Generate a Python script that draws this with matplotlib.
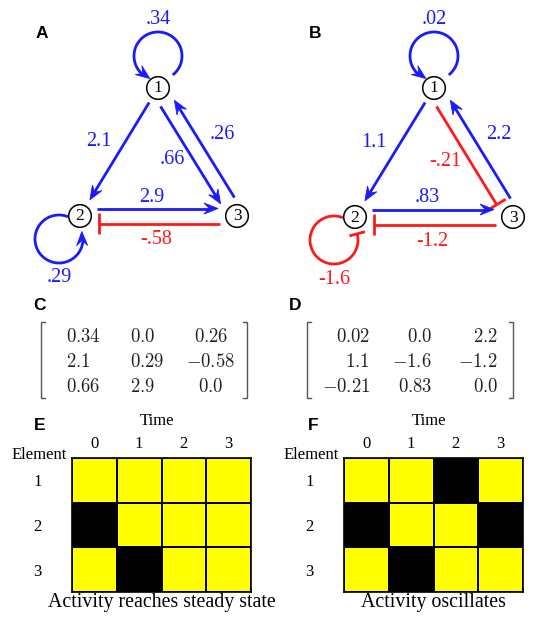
import numpy as np
import matplotlib
matplotlib.use("Agg")
import matplotlib.pyplot as plt
from matplotlib.patches import Circle, Polygon
from matplotlib.colors import ListedColormap

# ---------------- data ----------------
weights_A = [[0.34, 0.0, 0.26],
             [2.1, 0.29, -0.58],
             [0.66, 2.9, 0.0]]
weights_B = [[0.02, 0.0, 2.2],
             [1.1, -1.6, -1.2],
             [-0.21, 0.83, 0.0]]
activity_E = [[1, 1, 1, 1],
              [0, 1, 1, 1],
              [1, 0, 1, 1]]
activity_F = [[1, 1, 0, 1],
              [0, 1, 1, 0],
              [1, 0, 1, 1]]
time_labels = ['0', '1', '2', '3']
element_labels = ['1', '2', '3']
node_labels = ['1', '2', '3']
panel_letters = ['A', 'B', 'C', 'D', 'E', 'F']
captions = ['Activity reaches steady state', 'Activity oscillates']

# ---------------- style ----------------
BLUE = '#1a1aff'
RED = '#ff1a1a'
SERIF = ['Liberation Serif', 'DejaVu Serif']
SANS = ['Liberation Sans', 'DejaVu Sans']
LW = 2.0
plt.rcParams['mathtext.fontset'] = 'cm'

fig = plt.figure(figsize=(5.46, 6.23), dpi=100)
ax = fig.add_axes([0, 0, 1, 1])
ax.set_xlim(0, 546)
ax.set_ylim(623, 0)
ax.axis('off')

HEAD_L, HEAD_W = 14.0, 5.5
NODE_R = 11.3
S_START, S_END = 17.0, 19.0
PAIR_OFF = 7.5
LOOP_R = 24.0
LOOP = {1: dict(off=(0, -32), t0=52, t1=-250),
        2: dict(off=(-21, 23), t0=-68, t1=-378)}
LABEL_FS = 14.5


def fmt_edge(w):
    s = f"{w:g}"
    if s.startswith('0.'):
        s = s[1:]
    elif s.startswith('-0.'):
        s = '-' + s[2:]
    return s


def arrowhead(tip, d, color):
    d = d / np.linalg.norm(d)
    n = np.array([-d[1], d[0]])
    back = tip - HEAD_L * d
    pts = [tip, back + HEAD_W * n, tip - 0.62 * HEAD_L * d, back - HEAD_W * n]
    ax.add_patch(Polygon(pts, closed=True, fc=color, ec=color, lw=0.6, zorder=4))


def tbar(end, d, color, half=10.5):
    d = d / np.linalg.norm(d)
    n = np.array([-d[1], d[0]])
    a, b = end - half * n, end + half * n
    ax.plot([a[0], b[0]], [a[1], b[1]], color=color, lw=LW, solid_capstyle='butt', zorder=3)


def edge_label(txt, pos, color):
    ax.text(pos[0], pos[1], txt, color=color, fontsize=LABEL_FS, family=SERIF,
            ha='center', va='center', zorder=6)


def draw_loop(nid, node, w):
    spec = LOOP[nid]
    c = np.array(node, float) + np.array(spec['off'], float)
    color = BLUE if w > 0 else RED

    def pt(t):
        t = np.deg2rad(t)
        return c + LOOP_R * np.array([np.cos(t), np.sin(t)])

    t0, t1 = spec['t0'], spec['t1']
    if w > 0:
        t_stop = t1 + np.rad2deg(0.6 * HEAD_L / LOOP_R)
        ts = np.linspace(t0, t_stop, 120)
        arc = np.array([pt(t) for t in ts])
        ax.plot(arc[:, 0], arc[:, 1], color=color, lw=LW, solid_capstyle='butt', zorder=3)
        tip = pt(t1)
        back = pt(t1 + np.rad2deg(HEAD_L / LOOP_R))
        arrowhead(tip, tip - back, color)
    else:
        t1 = t1 + 3
        ts = np.linspace(t0, t1, 120)
        arc = np.array([pt(t) for t in ts])
        ax.plot(arc[:, 0], arc[:, 1], color=color, lw=LW, solid_capstyle='butt', zorder=3)
        tr = np.deg2rad(t1)
        tbar(pt(t1), np.array([np.sin(tr), -np.cos(tr)]), color, half=8)
    if spec['off'][1] < 0:
        lp = (c[0], c[1] - (LOOP_R + 12))
    else:
        lp = (c[0], c[1] + (LOOP_R + 15))
    edge_label(fmt_edge(w), lp, color)


def draw_network(W, nodes):
    W = np.array(W)
    cen = np.mean(np.array(list(nodes.values()), float), axis=0)
    for i in range(3):
        for j in range(3):
            w = W[i][j]
            if w == 0:
                continue
            src, dst = j + 1, i + 1
            if src == dst:
                draw_loop(src, nodes[src], w)
                continue
            p, q = np.array(nodes[src], float), np.array(nodes[dst], float)
            d = (q - p) / np.linalg.norm(q - p)
            n = np.array([-d[1], d[0]])
            mid = (p + q) / 2
            inward = n if np.dot(cen - mid, n) > 0 else -n
            if W[j][i] != 0:
                is_in = src < dst
                side = inward if is_in else -inward
                off = PAIR_OFF
            else:
                is_in = False
                side = -inward
                off = 0.0
            start = p + d * S_START + side * off
            end = q - d * S_END + side * off
            color = BLUE if w > 0 else RED
            if w > 0:
                lend = end - 0.6 * HEAD_L * d
                ax.plot([start[0], lend[0]], [start[1], lend[1]], color=color, lw=LW,
                        solid_capstyle='butt', zorder=3)
                arrowhead(end, d, color)
            else:
                ax.plot([start[0], end[0]], [start[1], end[1]], color=color, lw=LW,
                        solid_capstyle='butt', zorder=3)
                tbar(end, d, color)
            txt = fmt_edge(w)
            tw, th = 7.5 * len(txt), 13.0
            base, along = (5.0, -6.0) if is_in else (10.0, 3.0)
            dl = base + 0.5 * (abs(side[0]) * tw + abs(side[1]) * th)
            lp = (start + end) / 2 + side * dl + d * along
            edge_label(txt, lp, color)
    for k, (x, y) in nodes.items():
        ax.add_patch(Circle((x, y), NODE_R, fc='white', ec='black', lw=1.1, zorder=5))
        ax.text(x, y + 0.5, node_labels[k - 1], fontsize=12.5, family=SERIF,
                ha='center', va='center', zorder=6)


nodes_A = {1: (158, 88), 2: (80, 216), 3: (237, 216)}
nodes_B = {1: (434, 88), 2: (355, 217), 3: (513, 217)}
draw_network(weights_A, nodes_A)
draw_network(weights_B, nodes_B)

# ---------------- matrices ----------------
ROW_BASE = [342, 367, 392]


def draw_matrix(W, col_x, col_ha, xl, xr):
    for i, row in enumerate(W):
        for j, v in enumerate(row):
            ax.text(col_x[j], ROW_BASE[i], f"${v}$", ha=col_ha[j], va='baseline',
                    fontsize=13.5, color='#222222')
    top, bot = 322, 398
    for x0, dx in ((xl, 4), (xr, -4)):
        ax.plot([x0 + dx, x0, x0, x0 + dx], [top, top, bot, bot], color='#555555',
                lw=1.0, solid_joinstyle='miter')


draw_matrix(weights_A, [66, 130, 211], ['left', 'left', 'center'], 41, 247)
draw_matrix(weights_B, [370, 432, 498], ['right', 'right', 'right'], 307, 513)

# ---------------- activity grids ----------------
cmap = ListedColormap(['black', '#ffff00'])


def draw_grid(act, left_px, caption):
    gx = fig.add_axes([left_px / 546, (623 - 592) / 623, 179 / 546, 134 / 623])
    gx.pcolormesh(np.array(act), cmap=cmap, vmin=0, vmax=1, edgecolors='black', linewidth=1.2)
    gx.set_xlim(0, len(time_labels))
    gx.set_ylim(len(element_labels), 0)
    gx.xaxis.tick_top()
    gx.set_xticks(np.arange(len(time_labels)) + 0.5)
    gx.set_xticklabels(time_labels, family=SERIF, fontsize=12)
    gx.set_yticks(np.arange(len(element_labels)) + 0.5)
    gx.set_yticklabels(element_labels, family=SERIF, fontsize=12)
    gx.tick_params(axis='x', length=0, pad=4)
    gx.tick_params(axis='y', length=0, pad=22)
    for s in gx.spines.values():
        s.set_linewidth(1.2)
    cx = left_px + 179 / 2
    ax.text(cx - 5, 421, 'Time', family=SERIF, fontsize=12, ha='center', va='center')
    ax.text(left_px - 33, 455, 'Element', family=SERIF, fontsize=12, ha='center', va='center')
    ax.text(cx, 603, caption, family=SERIF, fontsize=14.3, ha='center', va='center')


draw_grid(activity_E, 72, captions[0])
draw_grid(activity_F, 344, captions[1])

# ---------------- panel letters ----------------
letter_pos = [(42, 33), (315, 33), (39, 306), (295, 306), (40, 425), (313, 425)]
for L, (x, y) in zip(panel_letters, letter_pos):
    ax.text(x, y, L, family=SANS, fontweight='bold', fontsize=12.5, ha='center', va='center')

fig.savefig('out.png', dpi=100)
